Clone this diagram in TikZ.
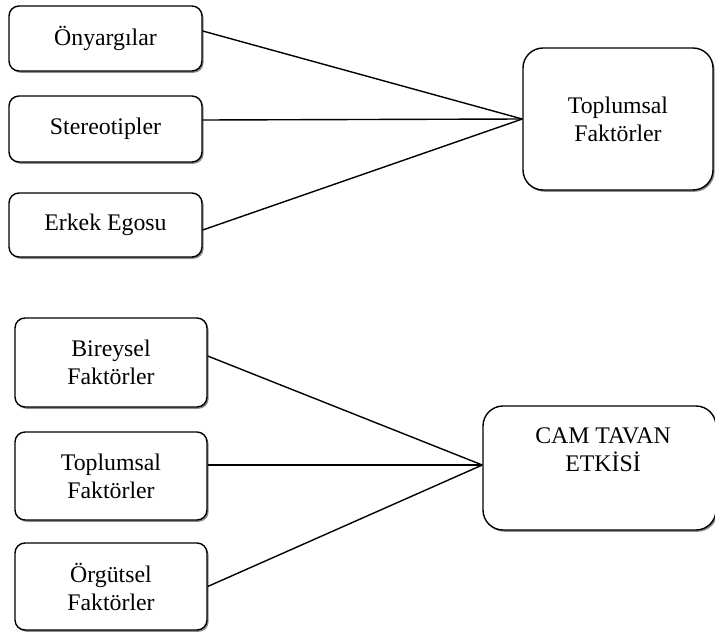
\documentclass[tikz,border=0pt]{standalone}
\usepackage{fontspec}
\setmainfont{Liberation Serif}
\usetikzlibrary{shadows}

\tikzset{
  box/.style={draw=black, line width=1.4pt, fill=white, rounded corners=10pt,
    inner sep=0pt, align=center,
    drop shadow={shadow xshift=1.6pt, shadow yshift=-1.8pt, fill=black!45, opacity=1},
    font=\fontsize{23.8}{28}\selectfont},
  smallbox/.style={box, minimum width=193pt},
  bigbox/.style={box, rounded corners=20pt},
  label/.style={align=center, inner sep=0pt, font=\fontsize{23.8}{28}\selectfont},
  link/.style={draw=black, line width=1.4pt}
}

\begin{document}
\begin{tikzpicture}[x=1pt, y=-1pt]
  \useasboundingbox (0,0) rectangle (715,632);

  % upper group: three sources feeding "Toplumsal Faktörler"
  \node[smallbox, minimum height=65pt] (ony) at (105.5,38.5) {Önyargılar};
  \node[smallbox, minimum height=66pt] (ste) at (105.5,129) {Stereotipler};
  \node[smallbox, minimum height=64pt] (erk) at (105.5,225) {Erkek Egosu};
  \node[bigbox, minimum width=190pt, minimum height=142pt] (top) at (618,119)
       {Toplumsal\\Faktörler};

  \draw[link] ([yshift=7.5pt]ony.east) -- (top.west);
  \draw[link] ([yshift=9pt]ste.east) -- (top.west);
  \draw[link] ([yshift=-5pt]erk.east) -- (top.west);

  % lower group: three factor groups feeding the glass ceiling effect
  \node[smallbox, minimum width=192pt, minimum height=89pt] (bir) at (111,362.5)
       {Bireysel\\Faktörler};
  \node[smallbox, minimum width=192pt, minimum height=88pt] (tpl) at (111,476)
       {Toplumsal\\Faktörler};
  \node[smallbox, minimum width=192pt, minimum height=87pt] (org) at (111,586.5)
       {Örgütsel\\Faktörler};
  \node[bigbox, minimum width=233pt, minimum height=124pt] (cam) at (599.5,468) {};
  \node[label] (camtxt) at (603,450) {CAM TAVAN\\ETKİSİ};

  \draw[link] ([yshift=6.5pt]bir.east) -- ([yshift=3pt]cam.west);
  \draw[link] ([yshift=11pt]tpl.east) -- ([yshift=3pt]cam.west);
  \draw[link] (org.east) -- ([yshift=3pt]cam.west);
\end{tikzpicture}
\end{document}
